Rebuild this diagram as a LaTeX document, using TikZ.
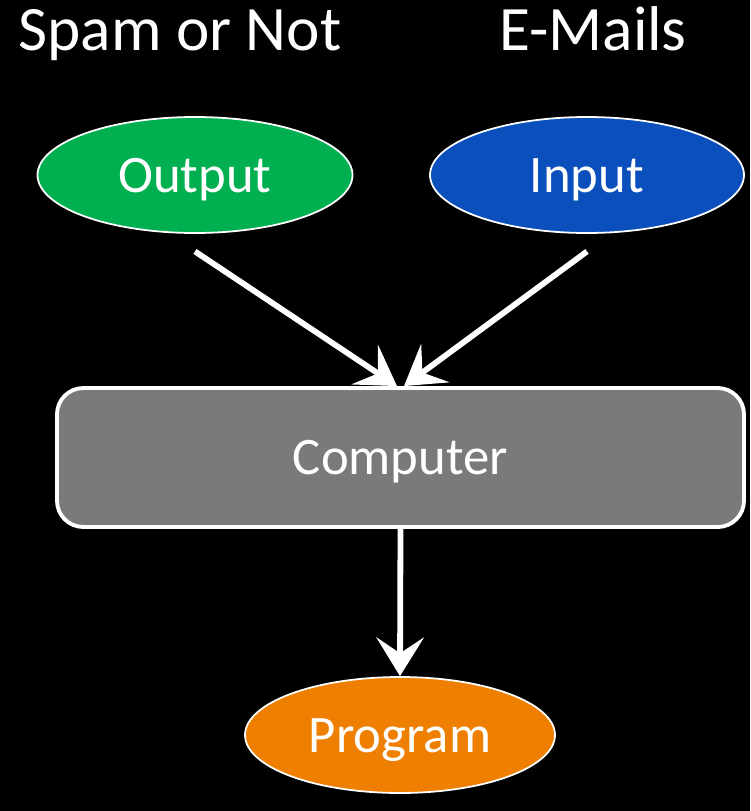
\documentclass[tikz,border=0pt]{standalone}
\usepackage{fontspec}
\setmainfont{Carlito}
\usetikzlibrary{arrows.meta,shapes.geometric}
\definecolor{outgreen}{HTML}{00B050}
\definecolor{inblue}{HTML}{0B4FBD}
\definecolor{compgray}{HTML}{7A7A7A}
\definecolor{progorange}{HTML}{EE7F00}
\begin{document}
\begin{tikzpicture}[>={Stealth[length=22pt,width=27pt,inset=9pt]},
    lbl/.style={text=white, text height=21pt, text depth=1.6pt,
        font=\fontsize{30}{33}\selectfont},
    oval/.style={ellipse, draw=white, line width=1pt, lbl,
        minimum width=6.3cm, minimum height=2.32cm},
    arr/.style={->, white, line width=3.3pt}]
    % Nền đen
    \fill[black] (0,0) rectangle (15,-16.22);
    \useasboundingbox (0,0) rectangle (15,-16.22);

    % Tiêu đề
    \node[white, font=\fontsize{36}{40}\selectfont, anchor=base] (tspam) at (3.6,-1) {Spam or Not};
    \node[white, font=\fontsize{36}{40}\selectfont, anchor=base] (tmail) at (11.86,-1) {E-Mails};

    % Các nút
    \node[oval, fill=outgreen] (out) at (3.9,-3.5) {Output};
    \node[oval, fill=inblue, minimum width=6.28cm] (in) at (11.74,-3.5) {Input};
    \node[draw=white, line width=2.2pt, fill=compgray, rounded corners=15pt, lbl,
        minimum width=13.74cm, minimum height=2.78cm] (comp) at (8.01,-9.15) {Computer};
    \node[oval, fill=progorange, minimum width=6.2cm] (prog) at (8,-14.7) {Program};

    % Mũi tên
    \draw[arr] ([yshift=-10pt]out.south) -- ([xshift=-2pt]comp.north);
    \draw[arr] ([yshift=-10pt]in.south) -- ([xshift=2pt]comp.north);
    \draw[arr] (comp.south) -- (prog.north);
\end{tikzpicture}
\end{document}
